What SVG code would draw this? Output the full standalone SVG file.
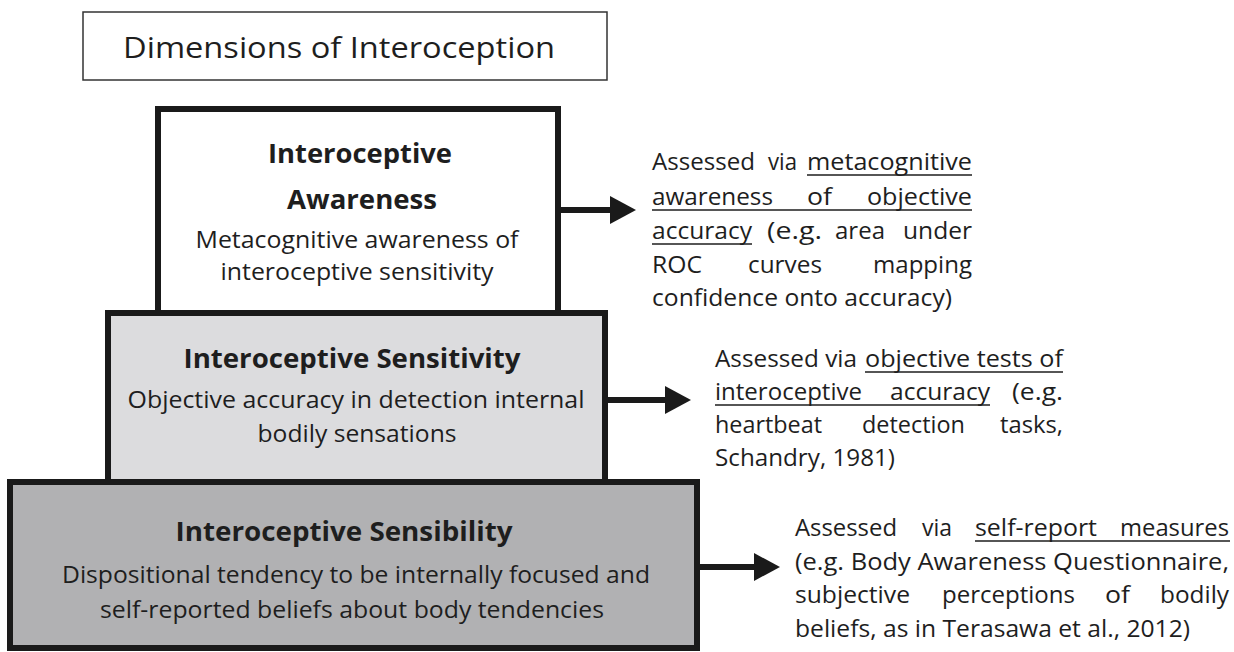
<svg xmlns="http://www.w3.org/2000/svg" width="1234" height="652" viewBox="0 0 1234 652">
<defs>
<style>
text{font-family:"Open Sans","Noto Sans","Liberation Sans",sans-serif;fill:#1e1e1e}
.ttl{font-size:30px}
.hd{font-size:26px;font-weight:bold;text-anchor:middle}
.sb{font-size:23px;text-anchor:middle}
.rt{font-size:23px}
.box{stroke:#1a1a1a;stroke-width:6}
.ul{stroke:#1e1e1e;stroke-width:1.6}
.conn{stroke:#1a1a1a;stroke-width:6;fill:none}
</style>
<marker id="ah" markerUnits="userSpaceOnUse" markerWidth="27" markerHeight="30" refX="0" refY="14" orient="auto">
<path d="M0,0 L26,14 L0,28 z" fill="#1a1a1a"/>
</marker>
</defs>
<rect width="1234" height="652" fill="#fff"/>

<g id="title">
<rect x="83" y="12" width="524" height="68" fill="#fff" stroke="#333" stroke-width="1.5"/>
<text class="ttl" x="123" y="58" textLength="432" lengthAdjust="spacingAndGlyphs">Dimensions of Interoception</text>
</g>

<g id="sensibility">
<rect class="box" x="10" y="482" width="687" height="166" fill="#b1b1b3"/>
<text class="hd" x="344" y="541" textLength="337" lengthAdjust="spacingAndGlyphs">Interoceptive Sensibility</text>
<text class="sb" x="356" y="583" textLength="588" lengthAdjust="spacingAndGlyphs">Dispositional tendency to be internally focused and</text>
<text class="sb" x="352" y="618" textLength="504" lengthAdjust="spacingAndGlyphs">self-reported beliefs about body tendencies</text>
</g>

<g id="sensitivity">
<rect class="box" x="108" y="313" width="497" height="169" fill="#dcdcde"/>
<text class="hd" x="352" y="368" textLength="337" lengthAdjust="spacingAndGlyphs">Interoceptive Sensitivity</text>
<text class="sb" x="356" y="408" textLength="457" lengthAdjust="spacingAndGlyphs">Objective accuracy in detection internal</text>
<text class="sb" x="357" y="442" textLength="199" lengthAdjust="spacingAndGlyphs">bodily sensations</text>
</g>

<g id="awareness">
<rect class="box" x="158" y="109" width="400" height="204" fill="#fff"/>
<text class="hd" x="360" y="163" textLength="184" lengthAdjust="spacingAndGlyphs">Interoceptive</text>
<text class="hd" x="362" y="209" textLength="150" lengthAdjust="spacingAndGlyphs">Awareness</text>
<text class="sb" x="357" y="248" textLength="323" lengthAdjust="spacingAndGlyphs">Metacognitive awareness of</text>
<text class="sb" x="357" y="280" textLength="273" lengthAdjust="spacingAndGlyphs">interoceptive sensitivity</text>
</g>

<g id="connectors">
<line class="conn" x1="558" y1="210" x2="610" y2="210" marker-end="url(#ah)"/>
<line class="conn" x1="605" y1="400" x2="665" y2="400" marker-end="url(#ah)"/>
<line class="conn" x1="697" y1="567" x2="754" y2="567" marker-end="url(#ah)"/>
</g>

<g id="note-awareness">
<text class="rt" x="652" y="170" textLength="103" lengthAdjust="spacingAndGlyphs">Assessed</text>
<text class="rt" x="768" y="170" textLength="29" lengthAdjust="spacingAndGlyphs">via</text>
<text class="rt" x="807" y="170" textLength="165" lengthAdjust="spacingAndGlyphs">metacognitive</text>
<line class="ul" x1="807" y1="175" x2="972" y2="175"/>
<text class="rt" x="652" y="205" textLength="121" lengthAdjust="spacingAndGlyphs">awareness</text>
<text class="rt" x="807" y="205" textLength="25" lengthAdjust="spacingAndGlyphs">of</text>
<text class="rt" x="867" y="205" textLength="105" lengthAdjust="spacingAndGlyphs">objective</text>
<line class="ul" x1="652" y1="210" x2="972" y2="210"/>
<text class="rt" x="652" y="239" textLength="100" lengthAdjust="spacingAndGlyphs">accuracy</text>
<line class="ul" x1="652" y1="244" x2="752" y2="244"/>
<text class="rt" x="767" y="239" textLength="55" lengthAdjust="spacingAndGlyphs">(e.g.</text>
<text class="rt" x="835" y="239" textLength="50" lengthAdjust="spacingAndGlyphs">area</text>
<text class="rt" x="903" y="239" textLength="69" lengthAdjust="spacingAndGlyphs">under</text>
<text class="rt" x="652" y="273" textLength="50" lengthAdjust="spacingAndGlyphs">ROC</text>
<text class="rt" x="748" y="273" textLength="74" lengthAdjust="spacingAndGlyphs">curves</text>
<text class="rt" x="873" y="273" textLength="99" lengthAdjust="spacingAndGlyphs">mapping</text>
<text class="rt" x="652" y="306" textLength="300" lengthAdjust="spacingAndGlyphs">confidence onto accuracy)</text>
</g>

<g id="note-sensitivity">
<text class="rt" x="715" y="367" textLength="142" lengthAdjust="spacingAndGlyphs">Assessed via</text>
<text class="rt" x="865" y="367" textLength="198" lengthAdjust="spacingAndGlyphs">objective tests of</text>
<line class="ul" x1="865" y1="372" x2="1063" y2="372"/>
<text class="rt" x="715" y="400" textLength="147" lengthAdjust="spacingAndGlyphs">interoceptive</text>
<text class="rt" x="890" y="400" textLength="100" lengthAdjust="spacingAndGlyphs">accuracy</text>
<line class="ul" x1="715" y1="405" x2="990" y2="405"/>
<text class="rt" x="1012" y="400" textLength="51" lengthAdjust="spacingAndGlyphs">(e.g.</text>
<text class="rt" x="715" y="433" textLength="107" lengthAdjust="spacingAndGlyphs">heartbeat</text>
<text class="rt" x="862" y="433" textLength="103" lengthAdjust="spacingAndGlyphs">detection</text>
<text class="rt" x="1000" y="433" textLength="63" lengthAdjust="spacingAndGlyphs">tasks,</text>
<text class="rt" x="715" y="466" textLength="180" lengthAdjust="spacingAndGlyphs">Schandry, 1981)</text>
</g>

<g id="note-sensibility">
<text class="rt" x="795" y="536" textLength="102" lengthAdjust="spacingAndGlyphs">Assessed</text>
<text class="rt" x="922" y="536" textLength="30" lengthAdjust="spacingAndGlyphs">via</text>
<text class="rt" x="975" y="536" textLength="122" lengthAdjust="spacingAndGlyphs">self-report</text>
<text class="rt" x="1120" y="536" textLength="109" lengthAdjust="spacingAndGlyphs">measures</text>
<line class="ul" x1="975" y1="541" x2="1230" y2="541"/>
<text class="rt" x="795" y="570" textLength="434" lengthAdjust="spacingAndGlyphs">(e.g. Body Awareness Questionnaire,</text>
<text class="rt" x="795" y="603" textLength="115" lengthAdjust="spacingAndGlyphs">subjective</text>
<text class="rt" x="942" y="603" textLength="133" lengthAdjust="spacingAndGlyphs">perceptions</text>
<text class="rt" x="1105" y="603" textLength="25" lengthAdjust="spacingAndGlyphs">of</text>
<text class="rt" x="1160" y="603" textLength="69" lengthAdjust="spacingAndGlyphs">bodily</text>
<text class="rt" x="795" y="637" textLength="395" lengthAdjust="spacingAndGlyphs">beliefs, as in Terasawa et al., 2012)</text>
</g>
</svg>
